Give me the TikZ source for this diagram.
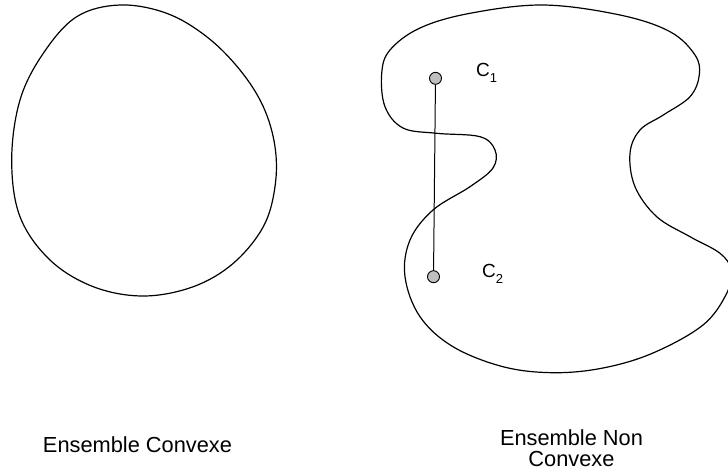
\documentclass[tikz,border=0pt]{standalone}
\usepackage{fontspec}
\setmainfont{Liberation Sans}
\begin{document}
\begin{tikzpicture}[x=1pt,y=-1pt,
  outline/.style={line width=1.2pt, black},
  pt/.style={circle, draw=black, line width=0.9pt, fill=black!25, minimum size=12pt, inner sep=0pt},
  lbl/.style={font=\fontsize{19}{19}\selectfont, anchor=base west, inner sep=0pt},
  captext/.style={font=\fontsize{21.8}{21.8}\selectfont, align=center, inner sep=0pt}]
\useasboundingbox (0,0) rectangle (728,474);
% convex set
\draw[outline] plot[smooth cycle, tension=0.6] coordinates {
 (120,5) (166.7,13.3) (206.7,36.7) (240,70) (263.3,106.7) (275,146.7)
 (275,186.7) (263.3,226.7) (233.3,263.3) (193.3,286.7) (143.3,296)
 (93.3,286.7) (50,260) (20,216.7) (11.7,160) (20,100) (43.3,53.3) (76.7,16.7)};
% non-convex set
\begin{scope}
\clip (0,0) rectangle (728,474);
\draw[outline] plot[smooth cycle, tension=0.6] coordinates {
 (543.3,5) (620,15) (670,31.7) (695,55) (699.3,75) (690,96.7) (663.3,115)
 (640,130) (630,153.3) (635,186.7) (656.7,216.7) (690,236.7) (720,253.3)
 (731,270) (726.7,293.3) (703,325) (653,353) (603,368) (553,372.7)
 (503,366.7) (453,346.7) (420,316.7) (405,276.7) (410,240) (433,210)
 (470,186.7) (493,168) (495,150) (480,136.7) (436.7,133.3) (403,128)
 (385,106.7) (381.7,73.3) (390,50) (420,28) (470,13.3)};
\end{scope}
% points
\node[pt] (c1) at (435.5,78.3) {};
\node[pt] (c2) at (433.5,276.7) {};
\draw[line width=1pt] (c1) -- (c2);
\node[lbl] (l1) at (476,76.7) {C\raisebox{-6pt}{\fontsize{13}{13}\selectfont 1}};
\node[lbl] (l2) at (482,277) {C\raisebox{-6pt}{\fontsize{13}{13}\selectfont 2}};
% captions
\node[captext, anchor=base] (t1) at (137.5,452.5) {Ensemble Convexe};
\node[captext, anchor=base] (t2) at (571.5,445.5) {Ensemble Non};
\node[captext, anchor=base] (t3) at (571.5,466) {Convexe};
\end{tikzpicture}
\end{document}
